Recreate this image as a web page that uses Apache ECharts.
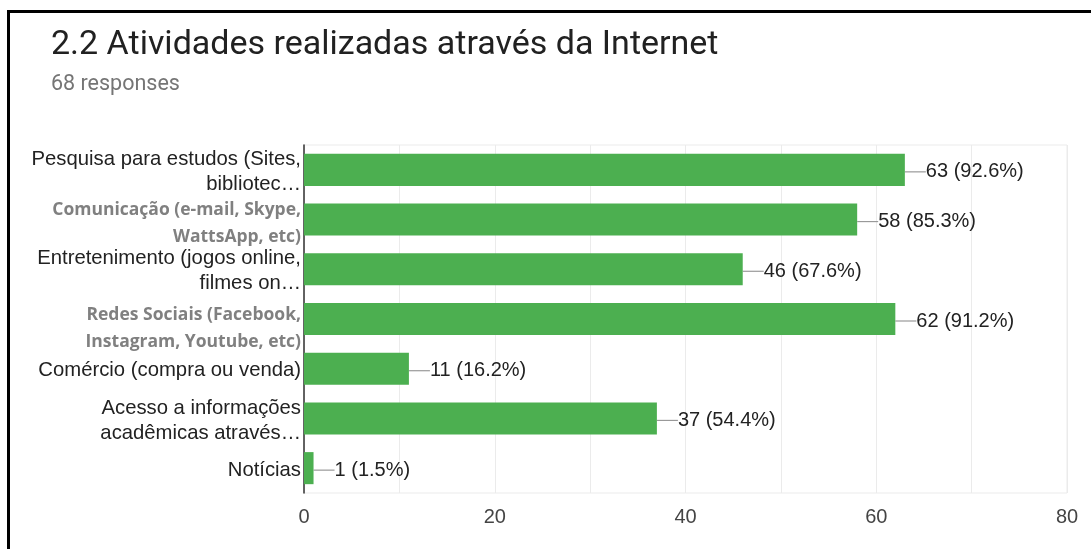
<!DOCTYPE html>
<html>
<head>
<meta charset="utf-8">
<style>
  html, body { margin: 0; padding: 0; background: #fff; }
  #frame { position: absolute; left: 7px; top: 10px; width: 1084px; height: 539px;
           border-top: 3px solid #000; border-left: 3px solid #000; box-sizing: border-box; }
  #chart { position: absolute; left: 0; top: 0; width: 1091px; height: 549px; }
</style>
<script src="https://cdn.jsdelivr.net/npm/echarts@6/dist/echarts.min.js"></script>
</head>
<body>
<div id="chart"></div>
<div id="frame"></div>
<script>
const categories = [
  'Pesquisa para estudos (Sites,\nbibliotec…',
  'Comunicação (e-mail, Skype,\nWattsApp, etc)',
  'Entretenimento (jogos online,\nfilmes on…',
  'Redes Sociais (Facebook,\nInstagram, Youtube, etc)',
  'Comércio (compra ou venda)',
  'Acesso a informações\nacadêmicas através…',
  'Notícias'
];
// labels typed in a different style
const grayLabels = [1, 3];
const counts = [63, 58, 46, 62, 11, 37, 1];
const percents = ['92.6%', '85.3%', '67.6%', '91.2%', '16.2%', '54.4%', '1.5%'];
const xTicks = [0, 20, 40, 60, 80];

// the pasted-in labels sit a little lower than their bars
const labelDrop = { 1: 4, 3: 10 };
const categoryItems = categories.map((name, i) => {
  const d = labelDrop[i] || 0;
  return d ? { value: name, textStyle: { padding: [2 * d, 0, 0, 0] } } : name;
});

const chart = echarts.init(document.getElementById('chart'));
chart.setOption({
  animation: false,
  title: {
    text: '2.2 Atividades realizadas através da Internet',
    subtext: '68 responses',
    left: 46,
    top: 23,
    itemGap: 12,
    textStyle: { fontFamily: 'Roboto', fontSize: 34, fontWeight: 'normal', color: '#212121' },
    subtextStyle: { fontFamily: 'Roboto', fontSize: 21.5, color: '#757575' }
  },
  grid: {
    left: 304, right: 24, top: 145, bottom: 56,
    show: true, borderColor: '#ebebeb', borderWidth: 1
  },
  xAxis: {
    type: 'value',
    min: 0, max: 80, interval: 10,
    axisLine: { show: false },
    axisTick: { show: false },
    splitLine: { lineStyle: { color: '#ebebeb', width: 1 } },
    axisLabel: {
      margin: 14,
      fontFamily: 'Liberation Sans', fontSize: 20, color: '#444',
      formatter: v => (xTicks.indexOf(v) >= 0 ? String(v) : '')
    }
  },
  yAxis: {
    type: 'category',
    inverse: true,
    data: categoryItems,
    axisTick: { show: false },
    axisLine: { show: true, lineStyle: { color: '#333', width: 1.5 } },
    axisLabel: {
      interval: 0,
      margin: 3,
      padding: [4, 0, 0, 0],
      fontFamily: 'Liberation Sans', fontSize: 20.3, color: '#222', lineHeight: 25, align: 'right',
      formatter: (v, i) => {
        if (grayLabels.indexOf(i) >= 0) {
          return v.split('\n').map(s => '{g|' + s + '}').join('\n');
        }
        return v;
      },
      rich: {
        g: { fontFamily: 'Open Sans', fontWeight: 700, fontSize: 17.5, color: '#808080', lineHeight: 27 }
      }
    }
  },
  series: [{
    type: 'bar',
    data: counts,
    barCategoryGap: '35.5%',
    itemStyle: { color: '#4caf50' },
    label: {
      show: true,
      position: 'right',
      distance: 0,
      fontFamily: 'Liberation Sans', fontSize: 20, color: '#222',
      formatter: p => counts[p.dataIndex] + ' (' + percents[p.dataIndex] + ')'
    },
    labelLayout: { dx: 21, dy: 2 },
    labelLine: { show: true, lineStyle: { color: '#999', width: 1.2 } }
  }]
});
</script>
</body>
</html>
